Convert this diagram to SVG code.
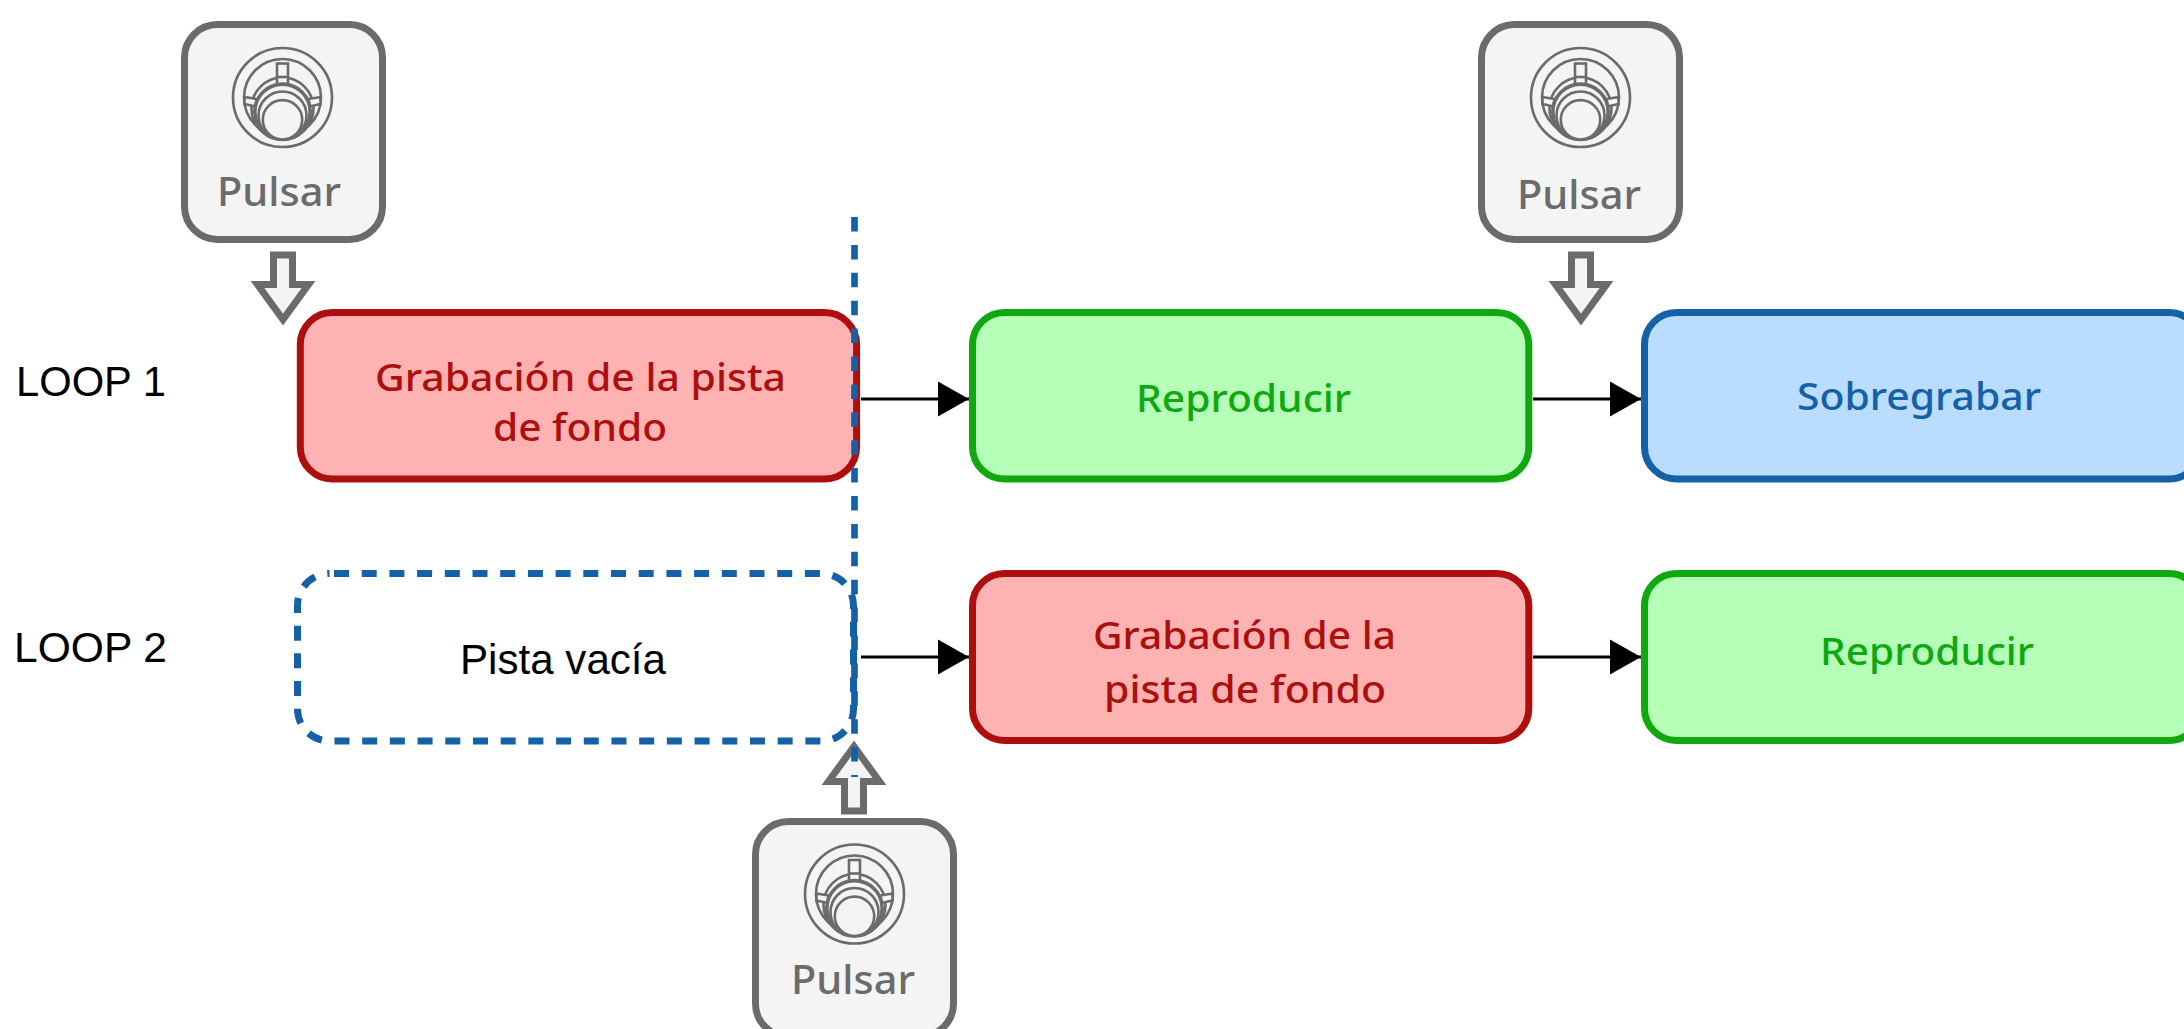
<svg xmlns="http://www.w3.org/2000/svg" width="2184" height="1029" viewBox="0 0 2184 1029">
<style>
text{font-family:"Noto Sans","Open Sans",sans-serif;font-weight:500;font-size:38px}
.plain{font-family:"Liberation Sans",Arial,sans-serif;font-weight:400;font-size:42px;fill:#000}
.box{stroke-width:7}
.red rect{fill:#ffb2b2;stroke:#ad0f0f}.red text{fill:#ad0f0f}
.green rect{fill:#b5ffb9;stroke:#0fa90f}.green text{fill:#0fa90f}
.blue rect{fill:#b9dcff;stroke:#1461a8}.blue text{fill:#1461a8}
.pedal{fill:#f4f4f4;stroke:#6b6b6b;stroke-width:7}
.pedal-label{fill:#6b6b6b;font-size:40px}
.ic{fill:#f4f4f4;stroke:#6b6b6b;stroke-width:2.600}
.conn{stroke:#000;stroke-width:3;fill:none;marker-end:url(#tip)}
.block{fill:#f4f4f4;stroke:#6b6b6b;stroke-width:7;stroke-miterlimit:10}
</style>
<defs>
<marker id="tip" markerUnits="userSpaceOnUse" markerWidth="32" markerHeight="36" refX="31" refY="18" orient="auto"><path d="M0 0.5L31 18L0 35.5Z" fill="#000"/></marker>
<g id="knob">
<circle class="ic" cx="0" cy="0" r="49.500"/>
<circle class="ic" cx="0" cy="0" r="38.500"/>
<circle class="ic" cx="0" cy="11" r="31"/>
<rect class="ic" x="-5.500" y="-34" width="11" height="21"/>
<path class="ic" d="M-5.500-20.500H5.500" fill="none"/>
<path class="ic" d="M-38-0.500L-26 1.500L-27 9L-38 6.500Z"/>
<path class="ic" d="M38-0.500L26 1.500L27 9L38 6.500Z"/>
<circle class="ic" cx="0" cy="14.300" r="27.700" style="stroke-width:3.600"/>
<circle class="ic" cx="0" cy="18" r="24"/>
<circle class="ic" cx="0" cy="22.300" r="19.700"/>
</g>
<path id="down" d="M-9.500 255H9.500V284.500H25.500L0 319.500L-25.500 284.500H-9.500Z"/>
</defs>

<g id="loop1-label"><text class="plain" x="16" y="396" textLength="150" lengthAdjust="spacingAndGlyphs">LOOP 1</text></g>
<g id="loop2-label"><text class="plain" x="14" y="662" textLength="153" lengthAdjust="spacingAndGlyphs">LOOP 2</text></g>

<g id="pedal1"><rect class="pedal" x="184.500" y="24.500" width="198" height="215" rx="33"/><use href="#knob" x="282.500" y="97.500"/><text class="pedal-label" x="217" y="206" textLength="124" lengthAdjust="spacingAndGlyphs">Pulsar</text></g>
<g id="pedal2"><rect class="pedal" x="1481.500" y="24.500" width="198" height="215" rx="33"/><use href="#knob" x="1580.500" y="97.500"/><text class="pedal-label" x="1517" y="209" textLength="124" lengthAdjust="spacingAndGlyphs">Pulsar</text></g>
<g id="pedal3"><rect class="pedal" x="755.500" y="821.500" width="198" height="215" rx="33"/><use href="#knob" x="854.500" y="894"/><text class="pedal-label" x="791" y="994" textLength="124" lengthAdjust="spacingAndGlyphs">Pulsar</text></g>

<g id="connectors">
<use class="block" href="#down" x="283"/>
<use class="block" href="#down" x="1581"/>
<use class="block" href="#down" transform="translate(854 1066) scale(1 -1)"/>
<path class="conn" d="M861 399H969"/>
<path class="conn" d="M1533 399H1641"/>
<path class="conn" d="M861 657H969"/>
<path class="conn" d="M1533 657H1641"/>
</g>

<g id="red1" class="red box"><rect class="box" x="300.300" y="312.500" width="556.300" height="166.500" rx="32"/><text x="375" y="391" textLength="411" lengthAdjust="spacingAndGlyphs">Grabación de la pista</text><text x="493" y="441" textLength="174" lengthAdjust="spacingAndGlyphs">de fondo</text></g>
<g id="green1" class="green box"><rect class="box" x="972.500" y="312.500" width="556.300" height="166.500" rx="32"/><text x="1136" y="412" textLength="215" lengthAdjust="spacingAndGlyphs">Reproducir</text></g>
<g id="blue1" class="blue box"><rect class="box" x="1644.500" y="312.500" width="556.300" height="166.500" rx="32"/><text x="1797" y="410" textLength="244" lengthAdjust="spacingAndGlyphs">Sobregrabar</text></g>
<g id="empty"><rect x="297.500" y="573.500" width="556" height="167.500" rx="32" fill="#fff" stroke="#1461a8" stroke-width="7" stroke-dasharray="15 12.700" stroke-dashoffset="23.200"/><text class="plain" x="460" y="674" textLength="206" lengthAdjust="spacingAndGlyphs">Pista vacía</text></g>
<g id="red2" class="red box"><rect class="box" x="972.500" y="573.500" width="556.300" height="167" rx="32"/><text x="1093" y="649" textLength="303" lengthAdjust="spacingAndGlyphs">Grabación de la</text><text x="1104" y="703" textLength="282" lengthAdjust="spacingAndGlyphs">pista de fondo</text></g>
<g id="green2" class="green box"><rect class="box" x="1644.500" y="573.500" width="556.300" height="167" rx="32"/><text x="1820" y="665" textLength="214" lengthAdjust="spacingAndGlyphs">Reproducir</text></g>

<path id="divider" d="M854.500 217V777" fill="none" stroke="#1461a8" stroke-width="6.700" stroke-dasharray="14.500 13.400"/>
</svg>
